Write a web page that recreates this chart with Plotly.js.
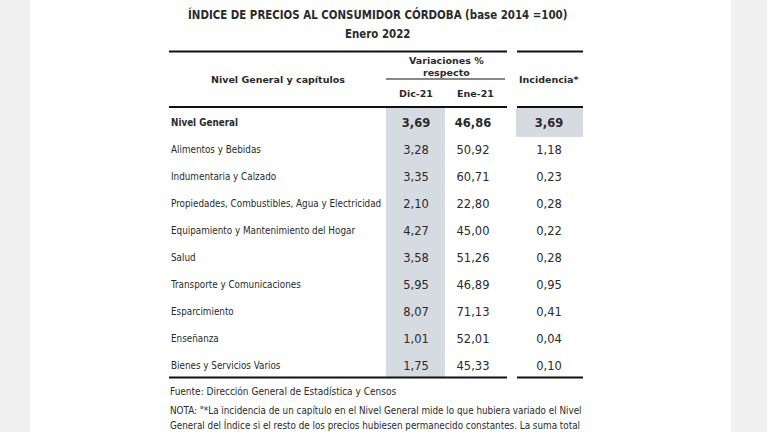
<!DOCTYPE html>
<html>
<head>
<meta charset="utf-8">
<script src="https://cdn.plot.ly/plotly-3.0.1.min.js"></script>
<style>html,body{margin:0;padding:0;background:#fff;}#chart{width:767px;height:432px;}</style>
</head>
<body>
<div id="chart"></div>
<script>
// ---- Data ----
const categories = [
  "Nivel General",
  "Alimentos y Bebidas",
  "Indumentaria y Calzado",
  "Propiedades, Combustibles, Agua y Electricidad",
  "Equipamiento y Mantenimiento del Hogar",
  "Salud",
  "Transporte y Comunicaciones",
  "Esparcimiento",
  "Enseñanza",
  "Bienes y Servicios Varios"
];
const varDic21 = [3.69, 3.28, 3.35, 2.10, 4.27, 3.58, 5.95, 8.07, 1.01, 1.75];
const varEne21 = [46.86, 50.92, 60.71, 22.80, 45.00, 51.26, 46.89, 71.13, 52.01, 45.33];
const incidencia = [3.69, 1.18, 0.23, 0.28, 0.22, 0.28, 0.95, 0.41, 0.04, 0.10];
const columnHeaders = ["Nivel General y capítulos", "Variaciones %<br>respecto", "Dic-21", "Ene-21", "Incidencia*"];
const titleLines = ["ÍNDICE DE PRECIOS AL CONSUMIDOR CÓRDOBA (base 2014 =100)", "Enero 2022"];
const sourceText = "Fuente: Dirección General de Estadística y Censos";
const noteLines = [
  "NOTA: \"*La incidencia de un capítulo en el Nivel General mide lo que hubiera variado el Nivel",
  "General del Índice si el resto de los precios hubiesen permanecido constantes. La suma total"
];

// ---- Styling / layout ----
const FONT = "DejaVu Sans Condensed, DejaVu Sans, sans-serif";
const WIDE = "DejaVu Sans, sans-serif";
const TXT = "#2a2a2a";
const fmt = v => v.toFixed(2).replace('.', ',');
const boldFirst = (arr) => arr.map((s, i) => i === 0 ? "<b>" + s + "</b>" : s);
const P = px => 1 - px / 432;

const colX = {label: 171, dic: 416, ene: 473, inc: 549};

function colTrace(xpos, vals, pos, family, size) {
  return {
    type: 'scatter', mode: 'text', cliponaxis: false, hoverinfo: 'skip', showlegend: false,
    x: categories.map(() => xpos), y: categories,
    text: boldFirst(vals), textposition: pos,
    textfont: {family: family, size: size, color: TXT}
  };
}

const traces = [
  colTrace(colX.label, categories, 'middle right', FONT, 9.8),
  colTrace(colX.dic, varDic21.map(fmt), 'middle center', WIDE, 11.5),
  colTrace(colX.ene, varEne21.map(fmt), 'middle center', WIDE, 11.5),
  colTrace(colX.inc, incidencia.map(fmt), 'middle center', WIDE, 11.5)
];

const shade = '#d6dae1';
const shapes = [
  {type:'rect', xref:'x', yref:'paper', x0:0, x1:30, y0:0, y1:1, fillcolor:'#f0f0f0', line:{width:0}, layer:'below'},
  {type:'rect', xref:'x', yref:'paper', x0:731, x1:767, y0:0, y1:1, fillcolor:'#f0f0f0', line:{width:0}, layer:'below'},
  {type:'rect', xref:'x', yref:'paper', x0:386, x1:445, y0:P(377), y1:P(108), fillcolor:shade, line:{width:0}, layer:'below'},
  {type:'rect', xref:'x', yref:'paper', x0:516, x1:583, y0:P(137), y1:P(108), fillcolor:shade, line:{width:0}, layer:'below'},
];
[51.5, 107, 377.5].forEach(y => {
  shapes.push({type:'line', xref:'x', yref:'paper', x0:169, x1:507, y0:P(y), y1:P(y), line:{color:'#111', width:2}});
  shapes.push({type:'line', xref:'x', yref:'paper', x0:517, x1:583, y0:P(y), y1:P(y), line:{color:'#111', width:2}});
});
shapes.push({type:'line', xref:'x', yref:'paper', x0:386, x1:505, y0:P(79), y1:P(79), line:{color:'#111', width:1}});

const ann = (text, x, y, opts) => Object.assign({
  text, x, y: P(y), xref:'x', yref:'paper', showarrow:false,
  xanchor:'center', yanchor:'middle',
  font:{family:FONT, size:9.8, color:TXT}
}, opts || {});
const hdrFont = {family:WIDE, size:9.5, color:TXT};
const ttlFont = {family:FONT, size:11.4, color:TXT};

const annotations = [
  ann("<b>" + titleLines[0] + "</b>", 377, 15, {font:ttlFont}),
  ann("<b>" + titleLines[1] + "</b>", 377, 34, {font:ttlFont}),
  ann("<b>" + columnHeaders[0] + "</b>", 278, 80, {font:hdrFont}),
  ann("<b>" + columnHeaders[1] + "</b>", 446, 67, {font:hdrFont}),
  ann("<b>" + columnHeaders[2] + "</b>", 416, 94, {font:hdrFont}),
  ann("<b>" + columnHeaders[3] + "</b>", 475, 94, {font:hdrFont}),
  ann("<b>" + columnHeaders[4] + "</b>", 548, 80, {font:hdrFont}),
  ann(sourceText, 168, 391, {xanchor:'left', font:{family:FONT, size:10, color:TXT}}),
  ann(noteLines[0], 168, 410, {xanchor:'left'}),
  ann(noteLines[1], 168, 425, {xanchor:'left'})
];

const layout = {
  width: 767, height: 432,
  margin: {l:0, r:0, t:0, b:0},
  paper_bgcolor: '#ffffff', plot_bgcolor: 'rgba(0,0,0,0)',
  showlegend: false, hovermode: false,
  xaxis: {range:[0,767], visible:false, fixedrange:true},
  yaxis: {type:'category', categoryarray: categories, categoryorder:'array',
          range:[11.4074, -4.5926], visible:false, fixedrange:true},
  shapes, annotations
};

Plotly.newPlot('chart', traces, layout, {staticPlot:true, displayModeBar:false});
</script>
</body>
</html>
